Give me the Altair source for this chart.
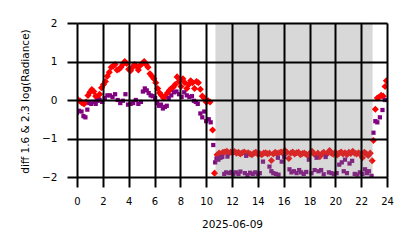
import altair as alt
import pandas as pd

# ---- data ----
red_hours = [
    0.00, 0.10, 0.25, 0.40, 0.55, 0.70, 0.85, 1.00, 1.15, 1.30, 1.45, 1.60, 1.75, 1.90,
    2.05, 2.20, 2.35, 2.50, 2.65, 2.80, 2.95, 3.10, 3.25, 3.40, 3.55, 3.70, 3.85, 4.00,
    4.15, 4.30, 4.45, 4.60, 4.75, 4.90, 5.05, 5.20, 5.35, 5.50, 5.65, 5.80, 5.95, 6.10,
    6.25, 6.40, 6.55, 6.70, 6.85, 7.00, 7.15, 7.30, 7.45, 7.60, 7.75, 7.90, 8.05, 8.20,
    8.35, 8.50, 8.65, 8.80, 8.95, 9.10, 9.25, 9.40, 9.55, 9.70, 9.85, 10.00, 10.15, 10.30,
    10.50, 10.65,
    10.85, 11.00, 11.15, 11.30, 11.45, 11.60, 11.75, 11.90, 12.05, 12.20, 12.35, 12.50,
    12.65, 12.80, 12.95, 13.10, 13.25, 13.40, 13.55, 13.70, 13.85, 14.00, 14.15, 14.30,
    14.45, 14.60, 14.75, 14.90, 15.05, 15.20, 15.35, 15.50, 15.65, 15.80, 15.95, 16.10,
    16.25, 16.40, 16.55, 16.70, 16.85, 17.00, 17.15, 17.30, 17.45, 17.60, 17.75, 17.90,
    18.05, 18.20, 18.35, 18.50, 18.65, 18.80, 18.95, 19.10, 19.25, 19.40, 19.55, 19.70,
    19.85, 20.00, 20.15, 20.30, 20.45, 20.60, 20.75, 20.90, 21.05, 21.20, 21.35, 21.50,
    21.65, 21.80, 21.95, 22.10, 22.25, 22.40, 22.55, 22.70, 22.85,
    22.95, 23.10, 23.25, 23.40, 23.55, 23.70, 23.85, 23.95,
]
red_values = [
    0.02, 0.00, -0.03, -0.08, -0.10, -0.05, 0.12, 0.20, 0.27, 0.22, 0.10, 0.05, 0.15, 0.32,
    0.40, 0.48, 0.62, 0.72, 0.85, 0.88, 0.92, 0.78, 0.80, 0.85, 0.92, 1.00, 0.95, 0.80,
    0.76, 0.85, 0.92, 0.88, 0.78, 0.90, 0.95, 1.00, 0.92, 0.85, 0.68, 0.62, 0.55, 0.45,
    0.30, 0.18, 0.12, 0.05, 0.10, 0.18, 0.25, 0.30, 0.33, 0.40, 0.60, 0.48, 0.35, 0.55,
    0.45, 0.30, 0.40, 0.50, 0.45, 0.30, 0.48, 0.45, 0.28, 0.10, 0.05, -0.05, -0.02, -0.05,
    -0.78, -1.90,
    -1.42, -1.38, -1.40, -1.36, -1.35, -1.33, -1.38, -1.35, -1.37, -1.34, -1.38, -1.36,
    -1.40, -1.37, -1.35, -1.39, -1.37, -1.40, -1.42, -1.38, -1.36, -1.41, -1.39, -1.42,
    -1.38, -1.37, -1.40, -1.38, -1.57, -1.40, -1.36, -1.39, -1.37, -1.35, -1.39, -1.31,
    -1.36, -1.52, -1.38, -1.35, -1.40, -1.37, -1.36, -1.42, -1.39, -1.38, -1.41, -1.45,
    -1.37, -1.33, -1.40, -1.43, -1.38, -1.47, -1.40, -1.36, -1.42, -1.39, -1.31, -1.38,
    -1.41, -1.36, -1.43, -1.38, -1.35, -1.40, -1.37, -1.42, -1.36, -1.39, -1.33, -1.38,
    -1.40, -1.37, -1.42, -1.50, -1.36, -1.40, -1.44, -1.38, -1.58,
    -1.05, -0.24, 0.05, 0.08, 0.12, 0.10, 0.35, 0.50,
]

purple_hours = [
    0.00, 0.15, 0.35, 0.50, 0.65, 0.80, 0.95, 1.10, 1.30, 1.45, 1.60, 1.75, 1.95, 2.15,
    2.35, 2.55, 2.75, 2.95, 3.15, 3.35, 3.55, 3.75, 3.95, 4.15, 4.35, 4.55, 4.75, 4.95,
    5.10, 5.25, 5.40, 5.55, 5.70, 5.85, 6.05, 6.20, 6.35, 6.50, 6.65, 6.80, 6.95, 7.10,
    7.30, 7.50, 7.70, 7.90, 8.10, 8.30, 8.50, 8.70, 8.90, 9.05, 9.20, 9.35, 9.55, 9.70,
    9.85, 10.00, 10.20, 10.35, 10.55,
    10.70, 10.80, 10.95, 11.10, 11.25, 11.40, 11.55, 11.65, 11.80, 11.95, 12.10, 12.30,
    12.50, 12.65, 13.00, 13.10, 13.20, 13.40, 13.60, 13.80, 14.00, 14.15, 14.40, 14.90,
    15.05, 15.20, 15.40, 15.55, 15.60, 15.85, 16.05, 16.45, 16.60, 16.80, 17.00, 17.20,
    17.35, 17.55, 17.75, 17.95, 18.15, 18.40, 18.55, 18.70, 18.90, 19.10, 19.25, 19.50,
    19.70, 19.90, 20.10, 20.30, 20.50, 20.65, 20.75, 20.90, 21.10, 21.30, 21.50, 21.70,
    21.90, 22.10, 22.30, 22.45, 22.60, 22.80,
    22.95, 23.10, 23.25, 23.45, 23.65, 23.85,
]
purple_values = [
    -0.33, -0.28, -0.30, -0.42, -0.45, -0.25, -0.08, -0.10, -0.05, -0.10, -0.02, 0.00, -0.05, 0.05,
    0.12, 0.12, 0.08, 0.15, 0.00, -0.08, -0.02, 0.15, -0.12, -0.10, -0.08, 0.00, -0.10, -0.05,
    0.22, 0.30, 0.25, 0.18, 0.12, 0.10, 0.05, -0.08, -0.15, -0.12, -0.22, -0.18, -0.15, 0.05,
    0.12, 0.20, 0.22, 0.15, 0.08, 0.20, 0.12, 0.08, 0.10, -0.02, -0.05, -0.10, -0.35, -0.45,
    -0.30, -0.55, -0.50, -0.58, -1.17,
    -1.62, -1.52, -1.55, -1.50, -1.48, -1.92, -1.88, -1.47, -1.90, -1.87, -1.93, -1.88,
    -1.92, -1.86, -1.90, -1.45, -1.95, -1.89, -1.92, -1.88, -1.93, -1.90, -1.60, -1.73,
    -1.85, -1.90, -1.92, -1.50, -1.94, -1.60, -1.48, -1.80, -1.88, -1.85, -1.90, -1.82,
    -1.88, -1.92, -1.87, -1.55, -1.90, -1.82, -1.50, -1.85, -1.82, -1.93, -1.48, -1.88,
    -1.90, -1.93, -1.90, -1.68, -1.62, -1.85, -1.55, -1.90, -1.65, -1.58, -1.92, -1.94,
    -1.88, -1.92, -1.80, -1.90, -1.85, -1.97,
    -0.85, -0.55, -0.58, -0.45, -0.26, 0.00,
]

night_start = [10.73]
night_end = [22.87]

x_ticks = [0, 2, 4, 6, 8, 10, 12, 14, 16, 18, 20, 22, 24]
y_ticks = [-2, -1, 0, 1, 2]

red_df = pd.DataFrame({"hour": red_hours, "value": red_values})
purple_df = pd.DataFrame({"hour": purple_hours, "value": purple_values})
night_df = pd.DataFrame({"hour": night_start, "hour_end": night_end})

W, H = 310, 154
FONT = "DejaVu Sans"

x_scale = alt.Scale(domain=[0, 24], nice=False, zero=False)
y_scale = alt.Scale(domain=[-2, 2], nice=False, zero=False)

x_axis = alt.Axis(
    values=x_ticks, title="2025-06-09", grid=True, gridColor="black", gridWidth=2,
    gridOpacity=1, domain=False, ticks=True, tickColor="black", tickWidth=2, tickSize=10,
    labelFont=FONT, labelFontSize=10, labelColor="black", labelPadding=9,
    labelFlush=False, labelOverlap=False, labelBound=False,
    titleFont=FONT, titleFontSize=10.5, titleFontWeight="normal", titleColor="black",
    titleX=155, titleY=50, titleBaseline="alphabetic", titleAlign="center",
    zindex=1,
)
y_axis = alt.Axis(
    values=y_ticks, title="diff 1.6 & 2.3  log(Radiance)", grid=True, gridColor="black",
    gridWidth=2, gridOpacity=1, domain=False, ticks=True, tickColor="black", tickWidth=2,
    tickSize=10, labelFont=FONT, labelFontSize=10.5, labelColor="black", labelPadding=10,
    labelFlush=False, labelOverlap=False, labelBound=False, format="d",
    titleFont=FONT, titleFontSize=10.5, titleFontWeight="normal", titleColor="black",
    titleX=-52, titleY=78, titleBaseline="middle", titleAlign="center", titleAngle=270,
    zindex=1,
)

red = alt.Chart(red_df).mark_point(
    shape="diamond", filled=True, size=50, color="#ff0000", opacity=1, clip=True
).encode(
    x=alt.X("hour:Q", scale=x_scale, axis=x_axis),
    y=alt.Y("value:Q", scale=y_scale, axis=y_axis),
)

purple = alt.Chart(purple_df).mark_point(
    shape="square", filled=True, size=18, color="#800080", opacity=1, clip=True
).encode(
    x=alt.X("hour:Q", scale=x_scale, axis=x_axis),
    y=alt.Y("value:Q", scale=y_scale, axis=y_axis),
)

shade = alt.Chart(night_df).mark_rect(
    color="#808080", opacity=0.3, stroke="#808080", strokeOpacity=0.3, strokeWidth=1
).encode(
    x=alt.X("hour:Q", scale=x_scale, axis=x_axis),
    x2="hour_end:Q",
    y=alt.value(0),
    y2=alt.value(H),
)

chart = alt.layer(red, purple, shade).properties(
    width=W, height=H,
    autosize=alt.AutoSizeParams(type="none"),
    padding={"left": 77, "top": 23, "right": 27, "bottom": 71},
).configure_view(stroke=None).configure(background="white")

chart.save("out.html", embed_options={"renderer": "svg", "actions": False})
